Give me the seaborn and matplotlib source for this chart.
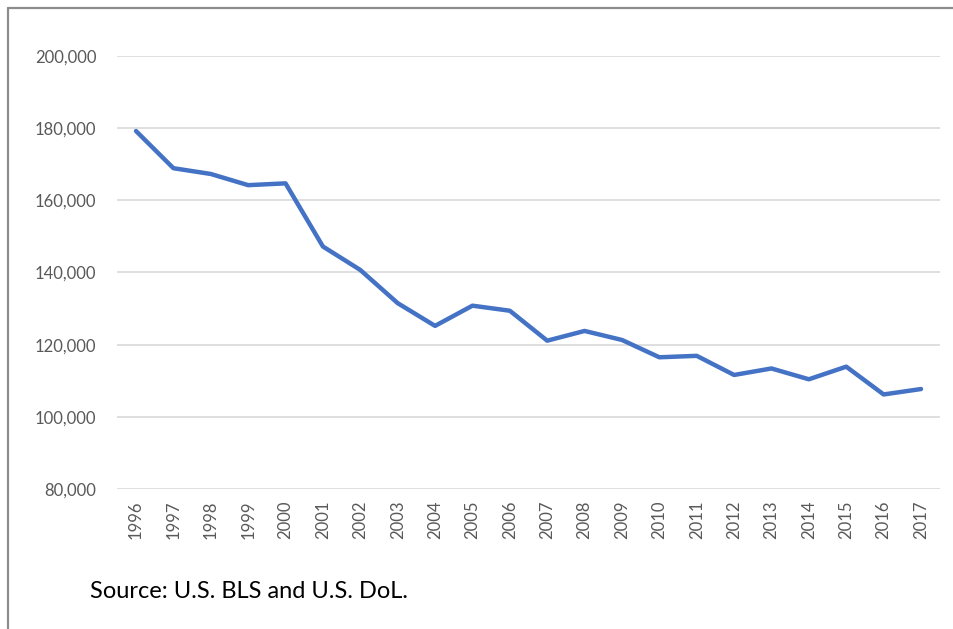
import numpy as np
import pandas as pd
import matplotlib.pyplot as plt
import matplotlib.ticker as mticker
from matplotlib.lines import Line2D
import seaborn as sns

years = list(range(1996, 2018))
employment = [179200, 168900, 167300, 164200, 164700, 147200, 140700, 131500,
              125200, 130800, 129400, 121100, 123800, 121300, 116500, 116900,
              111600, 113400, 110400, 113900, 106200, 107700]
source_note = "Source: U.S. BLS and U.S. DoL."

df = pd.DataFrame({'year': years, 'value': employment})

sns.set_style('white')
plt.rcParams['font.family'] = ['Lato', 'DejaVu Sans']

fig = plt.figure(figsize=(9.54, 6.29), dpi=100)
ax = fig.add_axes([0.1230, 0.2226, 0.8620, 0.6884])

sns.lineplot(data=df, x='year', y='value', ax=ax, color='#4472C4', linewidth=3.2)

ax.set_xlim(years[0] - 0.5, years[-1] + 0.5)
ax.set_ylim(80000, 200000)
ax.set_yticks(range(80000, 200001, 20000))
ax.yaxis.set_major_formatter(mticker.StrMethodFormatter('{x:,.0f}'))
ax.set_xticks(years)
ax.set_xticklabels([str(y) for y in years], rotation=90)
ax.grid(axis='y', color='#D9D9D9', linewidth=1.2)
ax.set_axisbelow(True)
for s in ax.spines.values():
    s.set_visible(False)
ax.tick_params(axis='both', length=0, labelsize=12, labelcolor='#595959')
ax.tick_params(axis='y', pad=15)
ax.tick_params(axis='x', pad=8)
ax.set_xlabel('')
ax.set_ylabel('')

fig.text(90 / 954, 1 - 592 / 629, source_note, fontsize=17, color='black',
         va='center', ha='left')

# chart frame (top and left edges only are visible)
fig.add_artist(Line2D([8 / 954, 8 / 954], [0, 1 - 8 / 629], color='#8C8C8C', linewidth=1.6))
fig.add_artist(Line2D([8 / 954, 1], [1 - 8 / 629, 1 - 8 / 629], color='#8C8C8C', linewidth=1.6))

fig.savefig('out.png', dpi=100)
